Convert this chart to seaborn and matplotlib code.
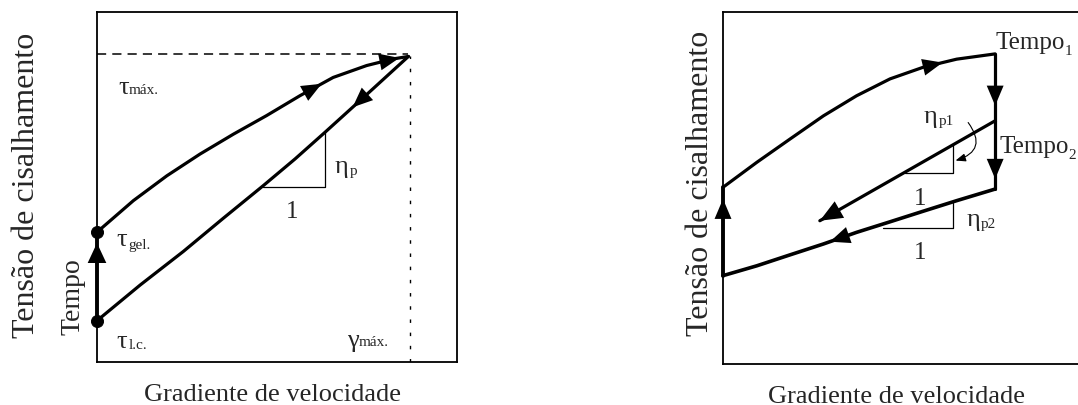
import numpy as np
import matplotlib
matplotlib.use('Agg')
import matplotlib.pyplot as plt
import seaborn as sns

# ---------------- data (percent of each panel's axes) ----------------
# Left panel: thixotropic loop
up_x = [0, 10.1, 19.4, 28.6, 37.9, 47.1, 56.4, 65.6, 74.9, 82.3, 86.5]
up_y = [37.1, 46.1, 53.2, 59.4, 65.1, 70.4, 76.1, 81.3, 84.7, 86.6, 87.3]
down_x = [86.5, 75.0, 63.3, 55.0, 46.2, 35.0, 24.0, 12.0, 0]
down_y = [87.3, 76.5, 65.6, 58.0, 50.4, 41.0, 31.6, 22.0, 11.8]
rest_x = [0, 0]
rest_y = [11.8, 37.1]
tau_max_level = 87.9
gamma_max_pos = 86.9
tri_x = [46.2, 63.3, 63.3]
tri_y = [49.9, 49.9, 65.6]

# Right panel: two-step decay
r_up_x = [0, 9.4, 18.6, 27.9, 37.1, 46.4, 55.6, 64.9, 75.6]
r_up_y = [50.2, 57.3, 63.9, 70.5, 76.2, 81.0, 84.3, 86.6, 88.1]
r_drop1_x = [75.6, 75.6]
r_drop1_y = [88.1, 69.1]
r_mid_x = [75.6, 26.9]
r_mid_y = [69.1, 40.7]
r_drop2_x = [75.6, 75.6]
r_drop2_y = [69.1, 49.7]
r_low_x = [75.6, 64.9, 55.6, 46.4, 37.1, 27.9, 18.6, 9.4, 0]
r_low_y = [49.7, 46.4, 43.4, 40.4, 37.4, 34.1, 31.0, 27.9, 25.1]
r_rise_x = [0, 0]
r_rise_y = [25.1, 50.2]
tri1_x = [50.6, 64.0, 64.0]
tri1_y = [54.3, 54.3, 62.6]
tri2_x = [44.5, 64.0, 64.0]
tri2_y = [38.6, 38.6, 45.8]

xlabel = 'Gradiente de velocidade'
ylabel = 'Tensão de cisalhamento'

# ---------------- style ----------------
sns.set_theme(style='white')
plt.rcParams['font.family'] = ['Liberation Serif', 'DejaVu Serif']

fig = plt.figure(figsize=(10.78, 4.06), dpi=100)
axL = fig.add_axes([97 / 1078, 43 / 406, 360 / 1078, 350 / 406])
axR = fig.add_axes([723 / 1078, 41 / 406, 360 / 1078, 352 / 406])

LW = 2.3
for ax in (axL, axR):
    ax.set_xlim(0, 100)
    ax.set_ylim(0, 100)
    ax.set_xticks([])
    ax.set_yticks([])
    for sp in ax.spines.values():
        sp.set_color('black')
        sp.set_linewidth(1.3)
        sp.set_visible(True)


def curve(ax, xs, ys, lw=LW, **kw):
    sns.lineplot(x=xs, y=ys, ax=ax, sort=False, estimator=None, color='black',
                 lw=lw, solid_capstyle='round', solid_joinstyle='round',
                 clip_on=False, **kw)


def head(ax, xs, ys, coord, value, back=3.5, ms=16, hl=0.9, hw=0.38):
    xs = np.asarray(xs, float)
    ys = np.asarray(ys, float)
    seg = np.hypot(np.diff(xs), np.diff(ys))
    cum = np.concatenate([[0], np.cumsum(seg)])
    c = xs if coord == 'x' else ys
    order = np.argsort(c)
    s_tip = np.interp(value, c[order], cum[order])
    s_tail = max(s_tip - back, 0)
    tip = (np.interp(s_tip, cum, xs), np.interp(s_tip, cum, ys))
    tail = (np.interp(s_tail, cum, xs), np.interp(s_tail, cum, ys))
    ax.annotate('', xy=tip, xytext=tail,
                arrowprops=dict(arrowstyle=f'-|>,head_length={hl},head_width={hw}',
                                lw=0, color='black', mutation_scale=ms,
                                shrinkA=0, shrinkB=0), annotation_clip=False)


def sym(ax, x, y, main, sub, dx, dy=-1.2, fs=19, sfs=11):
    ax.text(x, y, main, fontsize=fs, ha='left', va='center')
    ax.text(x + dx, y + dy, sub, fontsize=sfs, ha='left', va='center')


# ---------------- left panel ----------------
curve(axL, up_x, up_y)
curve(axL, down_x, down_y)
curve(axL, rest_x, rest_y, lw=2.8)
curve(axL, tri_x, tri_y, lw=0.9)
sns.lineplot(x=[0, up_x[-1]], y=[tau_max_level, tau_max_level], ax=axL, color='black',
             lw=1.1, linestyle=(0, (6, 4)), estimator=None)
sns.lineplot(x=[gamma_max_pos, gamma_max_pos], y=[0, up_y[-1]], ax=axL, color='black',
             lw=1.0, linestyle=(0, (2.5, 7)), estimator=None)
sns.scatterplot(x=[rest_x[0], rest_x[1]], y=[rest_y[0], rest_y[1]], ax=axL, color='black',
                s=75, edgecolor='black', clip_on=False, zorder=5)

head(axL, up_x, up_y, 'x', 62.4)
head(axL, up_x, up_y, 'x', 84.0)
head(axL, down_x, down_y, 'x', 71.0)
head(axL, rest_x, rest_y, 'y', 34.0, back=4, ms=16, hw=0.42)

sym(axL, 5.9, 78.6, 'τ', 'máx.', 2.9, dy=-0.6)
sym(axL, 5.5, 35.1, 'τ', 'gel.', 3.2, dy=-1.4)
sym(axL, 5.5, 6.0, 'τ', 'l.c.', 3.4, dy=-0.9)
sym(axL, 69.4, 6.3, 'γ', 'máx.', 3.3, dy=-0.4)
sym(axL, 66.1, 56.0, 'η', 'p', 4.0, dy=-1.3)
axL.text(54.1, 43.2, '1', fontsize=18, ha='center', va='center')

fig.text(27 / 1078, 1 - 185 / 406, ylabel, rotation=90, fontsize=23, ha='center', va='center')
fig.text(73 / 1078, 1 - 297 / 406, 'Tempo', rotation=90, fontsize=20, ha='center', va='center')
fig.text(273 / 1078, 1 - 395 / 406, xlabel, fontsize=19, ha='center', va='center')

# ---------------- right panel ----------------
curve(axR, r_up_x, r_up_y)
curve(axR, r_drop1_x, r_drop1_y)
curve(axR, r_mid_x, r_mid_y)
curve(axR, r_drop2_x, r_drop2_y)
curve(axR, r_low_x, r_low_y, lw=2.6)
curve(axR, r_rise_x, r_rise_y, lw=2.8)
curve(axR, tri1_x, tri1_y, lw=0.9)
curve(axR, tri2_x, tri2_y, lw=0.9)

head(axR, r_up_x, r_up_y, 'x', 61.0)
head(axR, r_drop1_x, r_drop1_y, 'y', 73.4)
head(axR, r_drop2_x, r_drop2_y, 'y', 52.6)
head(axR, r_mid_x, r_mid_y, 'x', r_mid_x[-1], back=5, ms=18)
head(axR, r_low_x, r_low_y, 'x', 29.7)
head(axR, r_rise_x, r_rise_y, 'y', 46.9)

axR.annotate('', xy=(64.6, 57.8), xytext=(68.1, 68.6),
             arrowprops=dict(arrowstyle='-|>,head_length=0.5,head_width=0.2', color='black',
                             lw=0.8, mutation_scale=12, shrinkA=0, shrinkB=0,
                             connectionstyle='arc3,rad=-0.7'))

sym(axR, 55.6, 70.5, 'η', 'p1', 4.2, dy=-1.3)
sym(axR, 67.7, 41.2, 'η', 'p2', 4.0, dy=-1.2)
sym(axR, 75.6, 91.5, 'Tempo', '1', 19.2, dy=-2.4, fs=18)
sym(axR, 76.8, 61.8, 'Tempo', '2', 19.2, dy=-2.4, fs=18)
axR.text(54.7, 47.3, '1', fontsize=18, ha='center', va='center')
axR.text(54.7, 31.7, '1', fontsize=18, ha='center', va='center')

fig.text(700 / 1078, 1 - 183 / 406, ylabel, rotation=90, fontsize=23, ha='center', va='center')
fig.text(897 / 1078, 1 - 397 / 406, xlabel, fontsize=19, ha='center', va='center')

fig.savefig('out.png', dpi=100)
